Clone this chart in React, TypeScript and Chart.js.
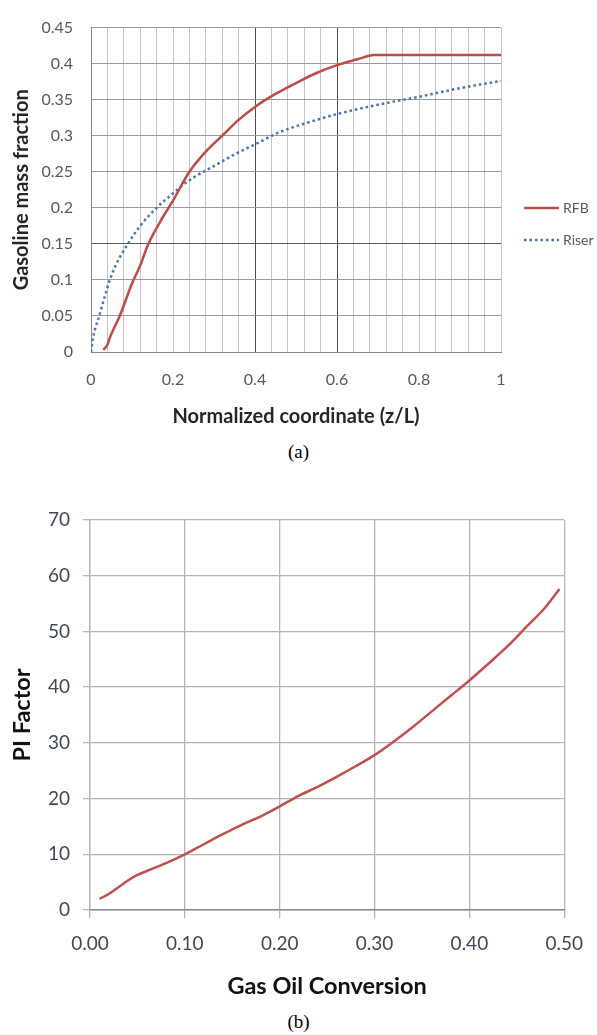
import React, { useEffect, useRef } from "react";
import { Chart, registerables } from "chart.js";
Chart.register(...registerables);

// ---- Chart (a): gasoline mass fraction along normalized coordinate ----
const rfbX = [0.03, 0.04, 0.046, 0.07, 0.1, 0.12, 0.14, 0.17, 0.2, 0.24, 0.28, 0.32, 0.36, 0.4, 0.45, 0.5, 0.55, 0.6, 0.65, 0.69, 0.8, 0.9, 1.0];
const rfbY = [0.003, 0.01, 0.02, 0.05, 0.095, 0.12, 0.15, 0.182, 0.21, 0.25, 0.278, 0.3, 0.322, 0.34, 0.358, 0.373, 0.387, 0.398, 0.406, 0.412, 0.412, 0.412, 0.412];
const riserX = [0, 0.005, 0.01, 0.02, 0.03, 0.046, 0.06, 0.09, 0.12, 0.16, 0.2, 0.225, 0.25, 0.3, 0.35, 0.4, 0.46, 0.5, 0.6, 0.7, 0.8, 0.9, 1.0];
const riserY = [0, 0.02, 0.032, 0.05, 0.07, 0.1, 0.12, 0.15, 0.175, 0.2, 0.22, 0.232, 0.242, 0.258, 0.274, 0.288, 0.305, 0.313, 0.33, 0.343, 0.354, 0.366, 0.376];
const seriesNamesA = ["RFB", "Riser"];
const xTickLabelsA = ["0", "0.2", "0.4", "0.6", "0.8", "1"];
const yTickLabelsA = ["0", "0.05", "0.1", "0.15", "0.2", "0.25", "0.3", "0.35", "0.4", "0.45"];
const xTitleA = "Normalized coordinate (z/L)";
const yTitleA = "Gasoline mass fraction";
const captionA = "(a)";

// ---- Chart (b): PI factor vs gas oil conversion ----
const convX = [0.01, 0.02, 0.03, 0.04, 0.05, 0.06, 0.08, 0.1, 0.12, 0.14, 0.16, 0.18, 0.2, 0.22, 0.24, 0.26, 0.28, 0.3, 0.32, 0.34, 0.36, 0.38, 0.4, 0.42, 0.44, 0.46, 0.48, 0.495];
const piY = [2.0, 2.9, 4.1, 5.3, 6.3, 7.0, 8.4, 10.0, 11.8, 13.6, 15.3, 16.8, 18.6, 20.5, 22.1, 23.9, 25.8, 27.8, 30.2, 32.8, 35.6, 38.4, 41.2, 44.2, 47.3, 50.8, 54.3, 57.6];
const xTickLabelsB = ["0.00", "0.10", "0.20", "0.30", "0.40", "0.50"];
const yTickLabelsB = ["0", "10", "20", "30", "40", "50", "60", "70"];
const xTitleB = "Gas Oil Conversion";
const yTitleB = "PI Factor";
const captionB = "(b)";

const pts = (xs: number[], ys: number[]) => xs.map((x, i) => ({ x, y: ys[i] }));

const legendPluginA = {
  id: "legendA",
  afterDraw(chart: any) {
    const ctx = chart.ctx;
    const rows = [208, 240];
    chart.data.datasets.forEach((ds: any, i: number) => {
      const y = rows[i];
      ctx.save();
      ctx.strokeStyle = ds.borderColor;
      ctx.lineWidth = ds.borderWidth;
      ctx.setLineDash(ds.borderDash || []);
      ctx.beginPath();
      ctx.moveTo(524, y);
      ctx.lineTo(559, y);
      ctx.stroke();
      ctx.setLineDash([]);
      ctx.fillStyle = "#595959";
      ctx.font = "14px Lato";
      ctx.textBaseline = "middle";
      ctx.textAlign = "left";
      ctx.fillText(ds.label, 563, y);
      ctx.restore();
    });
  },
};

export default function App() {
  const refA = useRef<HTMLCanvasElement>(null);
  const refB = useRef<HTMLCanvasElement>(null);

  useEffect(() => {
    const chartA = new Chart(refA.current as HTMLCanvasElement, {
      type: "line",
      data: {
        datasets: [
          {
            label: seriesNamesA[0],
            data: pts(rfbX, rfbY),
            borderColor: "#be4b48",
            borderWidth: 2.5,
            pointRadius: 0,
            cubicInterpolationMode: "monotone",
            fill: false,
          },
          {
            label: seriesNamesA[1],
            data: pts(riserX, riserY),
            borderColor: "#4a72b0",
            borderWidth: 2.5,
            borderDash: [2.5, 3],
            pointRadius: 0,
            cubicInterpolationMode: "monotone",
            fill: false,
          },
        ],
      },
      options: {
        responsive: false,
        maintainAspectRatio: false,
        animation: false,
        layout: { padding: { top: 22, right: 96, bottom: 0, left: 0 } },
        plugins: { legend: { display: false }, tooltip: { enabled: false } },
        scales: {
          x: {
            type: "linear",
            min: 0,
            max: 1,
            afterFit: (s: any) => { s.height = 88; },
            ticks: {
              stepSize: 0.04,
              autoSkip: false,
              maxRotation: 0,
              padding: 18,
              color: "#595959",
              font: { family: "Lato", size: 16 },
              callback: (v: any) => {
                const k = Math.round(Number(v) / 0.04);
                return k % 5 === 0 ? xTickLabelsA[k / 5] : "";
              },
            },
            grid: {
              drawTicks: false,
              lineWidth: 1,
              color: (c: any) => {
                const k = Math.round(c.tick.value / 0.04);
                return k === 10 || k === 15 ? "#4d4d4d" : "#c4c4c4";
              },
            },
            border: { color: "#888888" },
            title: {
              display: true,
              text: xTitleA,
              color: "#262626",
              font: { family: "Lato", size: 20, weight: "bold" },
              padding: { top: 0, bottom: 11 },
            },
          },
          y: {
            type: "linear",
            min: 0,
            max: 0.45,
            afterFit: (s: any) => { s.width = 91; },
            ticks: {
              stepSize: 0.05,
              padding: 18,
              color: "#595959",
              font: { family: "Lato", size: 16 },
              callback: (v: any) => yTickLabelsA[Math.round(Number(v) / 0.05)],
            },
            grid: {
              drawTicks: false,
              lineWidth: 1,
              color: (c: any) => (Math.round(c.tick.value * 100) === 15 ? "#5a5a5a" : "#9a9a9a"),
            },
            border: { color: "#888888" },
            title: {
              display: true,
              text: yTitleA,
              color: "#262626",
              font: { family: "Lato", size: 20, weight: "bold" },
              padding: { top: 10, bottom: 0 },
            },
          },
        },
      },
      plugins: [legendPluginA],
    } as any);

    const chartB = new Chart(refB.current as HTMLCanvasElement, {
      type: "line",
      data: {
        datasets: [
          {
            label: yTitleB,
            data: pts(convX, piY),
            borderColor: "#c0504d",
            borderWidth: 2.5,
            pointRadius: 0,
            cubicInterpolationMode: "monotone",
            fill: false,
          },
        ],
      },
      options: {
        responsive: false,
        maintainAspectRatio: false,
        animation: false,
        layout: { padding: { top: 40, right: 23, bottom: 0, left: 0 } },
        plugins: { legend: { display: false }, tooltip: { enabled: false } },
        scales: {
          x: {
            type: "linear",
            min: 0,
            max: 0.5,
            afterFit: (s: any) => { s.height = 100; },
            ticks: {
              stepSize: 0.1,
              autoSkip: false,
              maxRotation: 0,
              padding: 14,
              color: "#404858",
              font: { family: "Lato", size: 19 },
              callback: (v: any) => xTickLabelsB[Math.round(Number(v) / 0.1)],
            },
            grid: { color: "#b4b4b4", lineWidth: 1.3, tickLength: 8 },
            border: { color: "#8a8a8a", width: 1.5 },
            title: {
              display: true,
              text: xTitleB,
              color: "#111111",
              font: { family: "Lato", size: 23.5, weight: "bold" },
              padding: { top: 0, bottom: 9 },
            },
          },
          y: {
            type: "linear",
            min: 0,
            max: 70,
            afterFit: (s: any) => { s.width = 90; },
            ticks: {
              stepSize: 10,
              padding: 13,
              color: "#404858",
              font: { family: "Lato", size: 19 },
              callback: (v: any) => yTickLabelsB[Math.round(Number(v) / 10)],
            },
            grid: { color: "#b4b4b4", lineWidth: 1.3, tickLength: 7 },
            border: { color: "#b4b4b4", width: 1.3 },
            title: {
              display: true,
              text: yTitleB,
              color: "#111111",
              font: { family: "Lato", size: 23.5, weight: "bold" },
              padding: { top: 8, bottom: 0 },
            },
          },
        },
      },
    } as any);

    return () => {
      chartA.destroy();
      chartB.destroy();
    };
  }, []);

  const captionStyle: React.CSSProperties = {
    position: "absolute",
    left: 0,
    width: 597,
    textAlign: "center",
    fontFamily: "'Liberation Serif', 'Times New Roman', serif",
    fontSize: 19,
    lineHeight: "22px",
    color: "#000",
  };

  return (
    <div style={{ position: "absolute", left: 0, top: 0, width: 597, height: 1035, background: "#fff", overflow: "hidden" }}>
      <canvas ref={refA} width={597} height={440} style={{ position: "absolute", left: 0, top: 0 }} />
      <div style={{ ...captionStyle, top: 441 }}>{captionA}</div>
      <canvas ref={refB} width={597} height={530} style={{ position: "absolute", left: 0, top: 480 }} />
      <div style={{ ...captionStyle, top: 1011 }}>{captionB}</div>
    </div>
  );
}
